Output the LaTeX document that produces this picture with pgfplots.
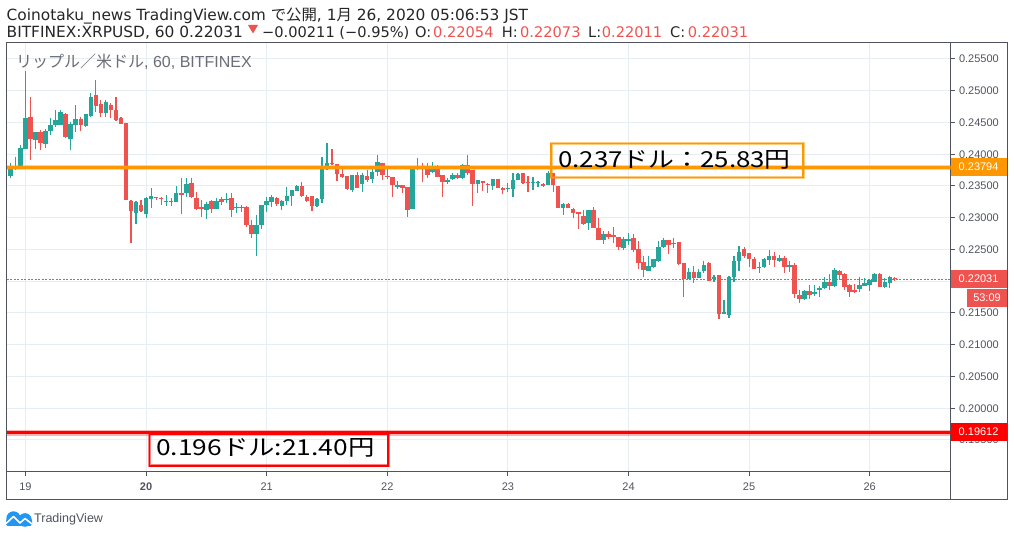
\documentclass[border=0pt]{standalone}
\usepackage{fontspec}
\usepackage{pgfplots}
\usepackage{pgfplotstable}
\pgfplotsset{compat=1.18}
\setmainfont{Liberation Sans}
\newfontfamily\cjk{Noto Sans CJK JP}
\newfontfamily\head{DejaVu Sans}
\newfontfamily\annoa{Noto Sans CJK JP}[FakeStretch=1.175]
\newfontfamily\annob{Noto Sans CJK JP}[FakeStretch=1.2]
\definecolor{up}{HTML}{26A69A}
\definecolor{dn}{HTML}{EF5350}
\definecolor{frame}{HTML}{50535E}
\definecolor{gridc}{HTML}{E6EEF3}
\definecolor{org}{HTML}{FF9800}
\definecolor{tvblue}{HTML}{2196F3}
\pgfplotstableread{
x o h l c
-3 .23662 .23857 .23631 .23820
-1 .23820 .24146 .23820 .24093
0 .24088 .25306 .24088 .24571
2 .24229 .24350 .24082 .24350
4 .24167 .24392 .24093 .24366
5 .24371 .24566 .24303 .24455
6 .24455 .24697 .24434 .24539
7 .24466 .24697 .24461 .24665
9 .24245 .24513 .24067 .24476
10 .24466 .24770 .24356 .24550
12 .24445 .24629 .24434 .24629
13 .24602 .24959 .24592 .24902
16 .24655 .24854 .24582 .24823
22 .23080 .23264 .22907 .23248
24 .23065 .23332 .22991 .23311
25 .23301 .23463 .23149 .23343
28 .23254 .23358 .23191 .23264
29 .23243 .23306 .23185 .23264
30 .23254 .23500 .23254 .23390
32 .23390 .23620 .23322 .23531
36 .23122 .23254 .22980 .23217
38 .23138 .23306 .23138 .23264
40 .23280 .23395 .23227 .23301
42 .23149 .23227 .23080 .23164
43 .23154 .23201 .23096 .23170
46 .22744 .23044 .22398 .22886
47 .22886 .23201 .22818 .23201
48 .23201 .23332 .23096 .23264
49 .23254 .23358 .23175 .23327
51 .23185 .23280 .23122 .23259
52 .23264 .23489 .23201 .23343
53 .23343 .23437 .23185 .23437
54 .23427 .23516 .23427 .23500
58 .23185 .23306 .23175 .23295
59 .23295 .23952 .23238 .23820
60 .23762 .24177 .23752 .23857
65 .23437 .23668 .23411 .23668
67 .23531 .23710 .23400 .23678
69 .23610 .23762 .23542 .23725
70 .23725 .23988 .23657 .23878
74 .23484 .23579 .23447 .23510
77 .23138 .23794 .23138 .23794
81 .23725 .23873 .23710 .23778
84 .23563 .23620 .23531 .23594
85 .23610 .23710 .23594 .23673
87 .23631 .23846 .23610 .23831
90 .23531 .23594 .23395 .23594
93 .23500 .23610 .23437 .23610
96 .23458 .23542 .23411 .23468
97 .23452 .23710 .23332 .23594
98 .23594 .23710 .23594 .23689
101 .23542 .23636 .23437 .23563
102 .23542 .23579 .23489 .23568
104 .23516 .23731 .23516 .23705
107 .23154 .23238 .23044 .23217
112 .22923 .23122 .22807 .23122
115 .22650 .22791 .22587 .22744
119 .22524 .22702 .22492 .22665
120 .22639 .22765 .22571 .22660
124 .22167 .22398 .22167 .22240
125 .22230 .22351 .22204 .22351
126 .22319 .22639 .22309 .22540
127 .22540 .22687 .22529 .22650
129 .22581 .22687 .22529 .22602
132 .22030 .22204 .22030 .22146
134 .22051 .22193 .22051 .22146
135 .22162 .22319 .22130 .22256
137 .22036 .22098 .21988 .22067
139 .21484 .21705 .21484 .21516
140 .21468 .22083 .21421 .22067
141 .22067 .22398 .21988 .22319
142 .22319 .22555 .22167 .22461
146 .22209 .22303 .22130 .22225
147 .22225 .22366 .22209 .22351
148 .22340 .22492 .22256 .22398
150 .22324 .22413 .22303 .22366
152 .22225 .22319 .22146 .22256
155 .21720 .21862 .21705 .21846
157 .21799 .21941 .21768 .21830
158 .21862 .21925 .21752 .21894
159 .21894 .22067 .21878 .21988
161 .21925 .22209 .21909 .22177
166 .21878 .22067 .21830 .21941
167 .21925 .22051 .21925 .21972
168 .21941 .22036 .21852 .22020
169 .21988 .22130 .21988 .22114
171 .21909 .22051 .21894 .21988
172 .21978 .22083 .21894 .22067
}\upt
\pgfplotstableread{
x o h l c
-2 .23820 .23962 .23752 .23809
1 .24587 .24902 .23909 .24240
3 .24350 .24382 .24072 .24182
8 .24634 .24655 .24251 .24277
11 .24550 .24592 .24371 .24455
14 .24933 .25169 .24670 .24765
15 .24791 .24854 .24582 .24655
17 .24770 .24802 .24566 .24697
18 .24697 .24896 .24529 .24545
19 .24571 .24592 .24476 .24482
20 .24492 .24492 .23280 .23280
21 .23259 .23280 .22603 .23107
23 .23201 .23280 .23096 .23112
26 .23322 .23332 .23280 .23306
27 .23311 .23332 .23201 .23290
31 .23390 .23620 .23054 .23364
33 .23547 .23620 .23306 .23332
34 .23311 .23411 .23122 .23138
35 .23164 .23280 .23007 .23133
37 .23264 .23280 .23070 .23138
39 .23295 .23332 .23201 .23254
41 .23306 .23385 .23017 .23128
44 .23170 .23185 .22860 .22891
45 .22886 .22965 .22676 .22744
50 .23306 .23332 .23185 .23217
55 .23500 .23568 .23332 .23337
56 .23327 .23358 .23254 .23264
57 .23343 .23343 .23112 .23185
61 .23857 .24082 .23831 .23841
62 .23846 .23846 .23579 .23689
63 .23689 .23778 .23620 .23636
64 .23657 .23657 .23437 .23452
66 .23673 .23715 .23468 .23468
68 .23657 .23752 .23568 .23600
71 .23862 .23862 .23594 .23678
72 .23652 .23762 .23615 .23636
73 .23641 .23641 .23327 .23516
75 .23516 .23516 .23385 .23468
76 .23484 .23484 .23012 .23122
78 .23815 .23941 .23752 .23778
79 .23820 .23857 .23563 .23794
80 .23820 .23857 .23620 .23673
82 .23815 .23825 .23641 .23647
83 .23668 .23668 .23327 .23563
86 .23673 .23710 .23610 .23631
88 .23831 .23988 .23673 .23710
89 .23752 .23752 .23185 .23531
91 .23579 .23584 .23421 .23542
92 .23537 .23542 .23385 .23510
94 .23610 .23610 .23463 .23468
95 .23468 .23479 .23374 .23442
99 .23705 .23705 .23531 .23542
100 .23568 .23662 .23411 .23542
103 .23526 .23542 .23489 .23505
105 .23705 .23705 .23400 .23516
106 .23505 .23505 .23159 .23159
108 .23217 .23227 .23154 .23159
109 .23138 .23149 .22991 .23080
110 .23091 .23091 .22828 .23059
111 .23028 .23122 .22886 .22902
113 .23122 .23164 .22839 .22839
114 .22839 .22991 .22650 .22650
116 .22744 .22791 .22660 .22702
117 .22728 .22849 .22597 .22702
118 .22702 .22702 .22492 .22545
121 .22681 .22744 .22466 .22492
122 .22503 .22634 .22193 .22293
123 .22303 .22398 .22067 .22183
128 .22650 .22650 .22429 .22576
130 .22618 .22618 .22261 .22272
131 .22288 .22288 .21752 .22036
133 .22146 .22240 .21978 .22051
136 .22288 .22298 .22004 .22004
138 .22098 .22098 .21405 .21484
143 .22508 .22540 .22366 .22403
144 .22445 .22445 .22225 .22351
145 .22351 .22382 .22193 .22193
149 .22398 .22461 .22225 .22335
151 .22366 .22398 .22130 .22225
153 .22256 .22288 .21736 .21799
154 .21783 .21862 .21657 .21720
156 .21846 .21941 .21720 .21783
160 .21988 .22114 .21862 .21925
162 .22162 .22177 .22020 .22093
163 .22114 .22130 .21862 .21909
164 .21941 .21957 .21752 .21830
165 .21862 .21957 .21815 .21830
170 .22114 .22130 .21909 .21909
173 .22054 .22073 .22011 .22031
}\dnt
\begin{document}
\begin{tikzpicture}
\useasboundingbox (0,0) rectangle (1014pt,537pt);
\begin{axis}[
  at={(6.5pt,65pt)}, anchor=south west, scale only axis,
  width=944pt, height=429pt,
  xmin=-3.78, xmax=184.08, ymin=0.18996, ymax=0.25752,
  axis line style={frame, line width=1pt},
  grid=major, grid style={gridc, line width=1pt},
  xtick={0,24,48,72,96,120,144,168},
  xticklabels={19,\textbf{20},21,22,23,24,25,26},
  ytick={0.195,0.2,0.205,0.21,0.215,0.22,0.225,0.23,0.235,0.24,0.245,0.25,0.255},
  ytick pos=right, yticklabel pos=right, xtick pos=lower,
  tick align=outside, major tick length=4pt,
  tick style={frame, line width=1pt},
  tick label style={font=\fontsize{11}{12}\selectfont, text=frame},
  yticklabel style={xshift=1pt, /pgf/number format/fixed, /pgf/number format/fixed zerofill, /pgf/number format/precision=5, /pgf/number format/assume math mode=true},
  xticklabel style={yshift=-3.5pt},
  clip=true,
]
\addplot[dn, line width=1pt, dash pattern=on 2pt off 1.5pt] coordinates {(-3.78,0.22031) (184.08,0.22031)};
\addplot[draw=none, mark=none, error bars/.cd, y dir=minus, y explicit, error mark=none, error bar style={draw=up, line width=1.15pt}]
  table[x=x, y=h, y error minus expr=\thisrow{h}-\thisrow{l}] {\upt};
\addplot[draw=none, mark=none, error bars/.cd, y dir=minus, y explicit, error mark=none, error bar style={draw=up, line width=4.5pt}]
  table[x=x, y=c, y error minus expr=\thisrow{c}-\thisrow{o}] {\upt};
\addplot[draw=none, mark=none, error bars/.cd, y dir=minus, y explicit, error mark=none, error bar style={draw=dn, line width=1.15pt}]
  table[x=x, y=h, y error minus expr=\thisrow{h}-\thisrow{l}] {\dnt};
\addplot[draw=none, mark=none, error bars/.cd, y dir=minus, y explicit, error mark=none, error bar style={draw=dn, line width=4.5pt}]
  table[x=x, y=o, y error minus expr=\thisrow{o}-\thisrow{c}] {\dnt};
\addplot[org, opacity=.4, line width=5.5pt] coordinates {(-3.78,0.23794) (184.08,0.23794)};
\addplot[org, line width=3.2pt] coordinates {(-3.78,0.23794) (184.08,0.23794)};
\addplot[red, opacity=.3, line width=5.5pt] coordinates {(-3.78,0.19612) (184.08,0.19612)};
\addplot[red, line width=3.2pt] coordinates {(-3.78,0.19612) (184.08,0.19612)};
\end{axis}
% frame
\draw[frame, line width=1pt] (6.5pt,37pt) rectangle (1007pt,494pt);
\draw[frame, line width=1pt] (950.5pt,37pt) -- (950.5pt,65pt);
% header
\node[anchor=base west, inner sep=0pt, text=black!85] at (6.5pt,516.3pt) {\fontsize{15.4}{16}\head Coinotaku\_news TradingView.com {\cjk で公開}, 1{\cjk 月} 26, 2020 05:06:53 JST};
\node[anchor=base west, inner sep=0pt, text=black!85] at (6.5pt,499.7pt) {\fontsize{15.4}{16}\head BITFINEX:XRPUSD, 60 0.22031};
\fill[dn] (248pt,512pt) -- (258pt,512pt) -- (253pt,503.5pt) -- cycle;
\node[anchor=base west, inner sep=0pt, text=black!85] at (262pt,499.7pt) {\fontsize{14.6}{16}\head −0.00211 (−0.95\%)};
\foreach \a/\t in {415/O:,501.7/H:,588/L:,670/C:}
  \node[anchor=base west, inner sep=0pt, text=black!85] at (\a pt,499.7pt) {\fontsize{14.6}{16}\head \t};
\foreach \a/\t in {433/0.22054,520/0.22073,601.7/0.22011,687.7/0.22031}
  \node[anchor=base west, inner sep=0pt, text=dn] at (\a pt,499.7pt) {\fontsize{14.6}{16}\head \t};
% watermark
\node[anchor=base west, inner sep=0pt, text=frame!85] at (16pt,469pt) {\fontsize{16}{17}\selectfont{\cjk リップル／米ドル}, 60, BITFINEX};
% price labels
\fill[org] (950.5pt,361.3pt) rectangle (1007pt,379pt);
\node[anchor=base west, inner sep=0pt, text=white] at (958.5pt,366.2pt) {\fontsize{11}{12}\selectfont 0.23794};
\fill[red] (950.5pt,96.3pt) rectangle (1007pt,114pt);
\node[anchor=base west, inner sep=0pt, text=white] at (958.5pt,101.2pt) {\fontsize{11}{12}\selectfont 0.19612};
\fill[dn] (950.5pt,249pt) rectangle (1007pt,267pt);
\node[anchor=base west, inner sep=0pt, text=white] at (958.5pt,254pt) {\fontsize{11}{12}\selectfont 0.22031};
\fill[dn] (967pt,230.3pt) rectangle (1007pt,248pt);
\node[anchor=base, inner sep=0pt, text=white] at (987pt,235pt) {\fontsize{11}{12}\selectfont 53:09};
% annotation boxes
\draw[org, opacity=.5, line width=3pt] (551pt,359.7pt) rectangle (803pt,393.7pt);
\draw[org, line width=1.4pt] (551pt,359.7pt) rectangle (803pt,393.7pt);
\node[anchor=base west, inner sep=0pt] at (558pt,369.5pt) {\fontsize{22}{24}\annoa 0.237ドル：25.83円};
\draw[red, opacity=.5, line width=3pt] (149.5pt,71pt) rectangle (388pt,103pt);
\draw[red, line width=1.4pt] (149.5pt,71pt) rectangle (388pt,103pt);
\node[anchor=base west, inner sep=0pt] at (156pt,81pt) {\fontsize{22}{24}\annob 0.196ドル:21.40円};
% logo
\fill[tvblue] (13.5pt,18.5pt) circle (7.2pt);
\fill[tvblue] (25pt,17pt) circle (6.8pt);
\fill[tvblue, rounded corners=1.5pt] (6pt,11pt) rectangle (32pt,18pt);
\draw[white, line width=1.6pt, line join=round] (6pt,13.5pt) -- (13.5pt,20.5pt) -- (20pt,14pt) -- (25pt,18.5pt) -- (32pt,13pt);
\node[anchor=base west, inner sep=0pt, text=frame] at (34pt,14pt) {\fontsize{12.5}{14}\selectfont TradingView};
\end{tikzpicture}
\end{document}
